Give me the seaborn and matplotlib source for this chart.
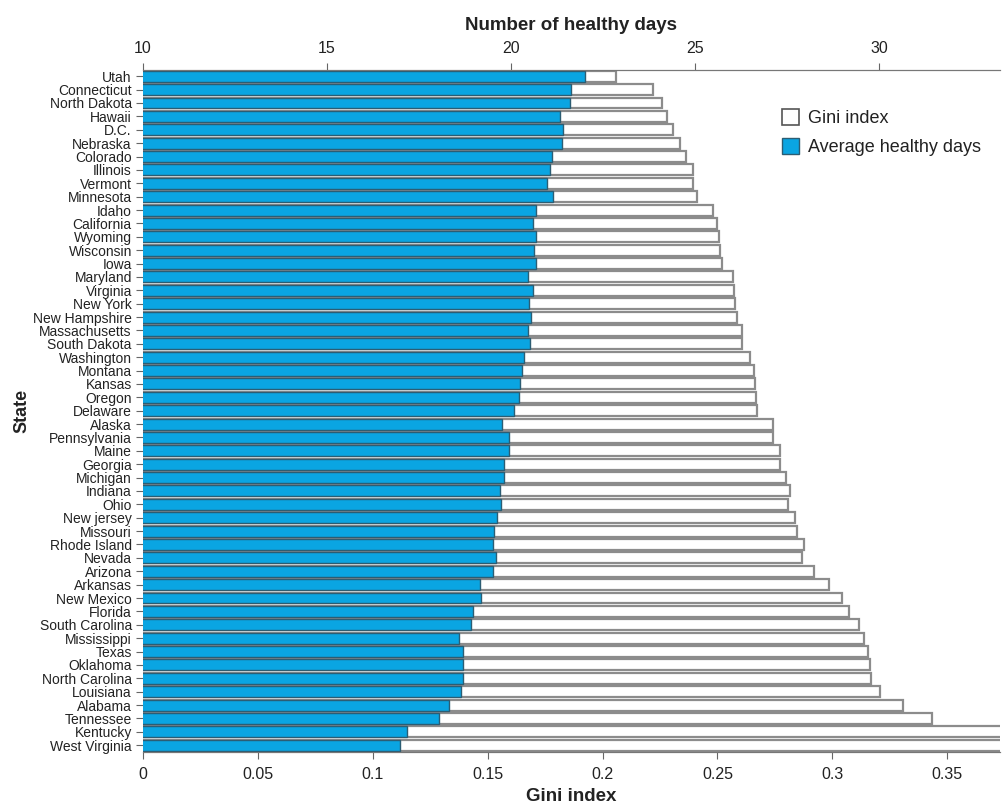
import pandas as pd
import numpy as np
import matplotlib
matplotlib.use("Agg")
import matplotlib.pyplot as plt
import seaborn as sns
from matplotlib.patches import Patch

states = ["Utah", "Connecticut", "North Dakota", "Hawaii", "D.C.", "Nebraska", "Colorado",
          "Illinois", "Vermont", "Minnesota", "Idaho", "California", "Wyoming", "Wisconsin",
          "Iowa", "Maryland", "Virginia", "New York", "New Hampshire", "Massachusetts",
          "South Dakota", "Washington", "Montana", "Kansas", "Oregon", "Delaware", "Alaska",
          "Pennsylvania", "Maine", "Georgia", "Michigan", "Indiana", "Ohio", "New jersey",
          "Missouri", "Rhode Island", "Nevada", "Arizona", "Arkansas", "New Mexico", "Florida",
          "South Carolina", "Mississippi", "Texas", "Oklahoma", "North Carolina", "Louisiana",
          "Alabama", "Tennessee", "Kentucky", "West Virginia"]

gini = [0.206, 0.222, 0.226, 0.228, 0.2305, 0.2336, 0.2364, 0.2394, 0.2394, 0.2413,
        0.248, 0.2499, 0.2506, 0.2512, 0.2522, 0.2566, 0.2572, 0.2575, 0.2584, 0.2609,
        0.2609, 0.2643, 0.2658, 0.2663, 0.267, 0.2673, 0.2743, 0.2743, 0.2772, 0.2772,
        0.280, 0.2816, 0.2808, 0.2836, 0.2848, 0.2876, 0.2869, 0.2921, 0.2986, 0.3041,
        0.3073, 0.3118, 0.3139, 0.3155, 0.3166, 0.317, 0.3208, 0.3308, 0.3436, 0.374, 0.376]

healthy_days = [22.0, 21.63, 21.6, 21.32, 21.42, 21.38, 21.11, 21.05, 20.99, 21.14,
                20.67, 20.61, 20.67, 20.62, 20.67, 20.47, 20.61, 20.49, 20.55, 20.47,
                20.52, 20.35, 20.29, 20.24, 20.23, 20.09, 19.75, 19.96, 19.96, 19.80,
                19.82, 19.71, 19.74, 19.61, 19.55, 19.51, 19.58, 19.51, 19.16, 19.19,
                18.97, 18.92, 18.59, 18.70, 18.69, 18.70, 18.64, 18.32, 18.05, 17.18, 16.98]

df = pd.DataFrame({"State": states, "Gini": gini, "Days": healthy_days})

sns.set_style("white")
plt.rcParams["font.family"] = ["Liberation Sans", "DejaVu Sans"]

BLUE = "#0aa5e2"
TXT = "#222222"

fig = plt.figure(figsize=(10.02, 8.07), dpi=100)
ax = fig.add_axes([0.1427, 0.068, 0.8553, 0.845])

# white Gini bars on the bottom axis
sns.barplot(data=df, x="Gini", y="State", order=states, color="white", saturation=1,
            edgecolor="#8c8c8c", linewidth=1.6, width=0.82, ax=ax, orient="h")

# blue healthy-days bars on the top axis
ax2 = ax.twiny()
sns.barplot(data=df, x="Days", y="State", order=states, color=BLUE, saturation=1,
            edgecolor="#2c5d73", linewidth=1.0, width=0.82, ax=ax2, orient="h")

ax.set_xlim(0, 0.373)
ax2.set_xlim(10, 33.29)
ax.set_ylim(50.52, -0.45)
ax2.set_ylim(50.52, -0.45)

ax.set_xticks([0, 0.05, 0.1, 0.15, 0.2, 0.25, 0.3, 0.35])
ax.set_xticklabels(["0", "0.05", "0.1", "0.15", "0.2", "0.25", "0.3", "0.35"])
ax2.set_xticks([10, 15, 20, 25, 30])

for a in (ax, ax2):
    for s in ["left", "right"]:
        a.spines[s].set_visible(False)
    a.spines["top"].set_color("#777777")
    a.spines["bottom"].set_color("#777777")

ax.tick_params(axis="x", bottom=True, direction="out", length=5, color="#666666",
               labelsize=11.5, labelcolor=TXT, pad=6)
ax.tick_params(axis="y", left=True, direction="out", length=5, color="#666666",
               labelsize=10, labelcolor=TXT, pad=3)
ax2.tick_params(axis="x", top=True, direction="out", length=5, color="#666666",
                labelsize=11.5, labelcolor=TXT, pad=5)
ax2.tick_params(axis="y", left=False, labelleft=False)
ax2.set_ylabel("")

ax.set_xlabel("Gini index", fontsize=13.5, fontweight="bold", color=TXT, labelpad=4)
ax2.set_xlabel("Number of healthy days", fontsize=13.5, fontweight="bold", color=TXT, labelpad=8)
ax.set_ylabel("State", fontsize=13, fontweight="bold", color=TXT, labelpad=2)

handles = [Patch(facecolor="white", edgecolor="#555555", linewidth=1.2, label="Gini index"),
           Patch(facecolor=BLUE, edgecolor="#2c5d73", linewidth=1.0, label="Average healthy days")]
ax2.legend(handles=handles, loc="upper right", bbox_to_anchor=(0.995, 0.885),
           bbox_transform=fig.transFigure, frameon=False, fontsize=13,
           handlelength=0.9, handleheight=1.0, handletextpad=0.5, labelspacing=0.6,
           labelcolor=TXT)

fig.savefig("out.png", dpi=100)
